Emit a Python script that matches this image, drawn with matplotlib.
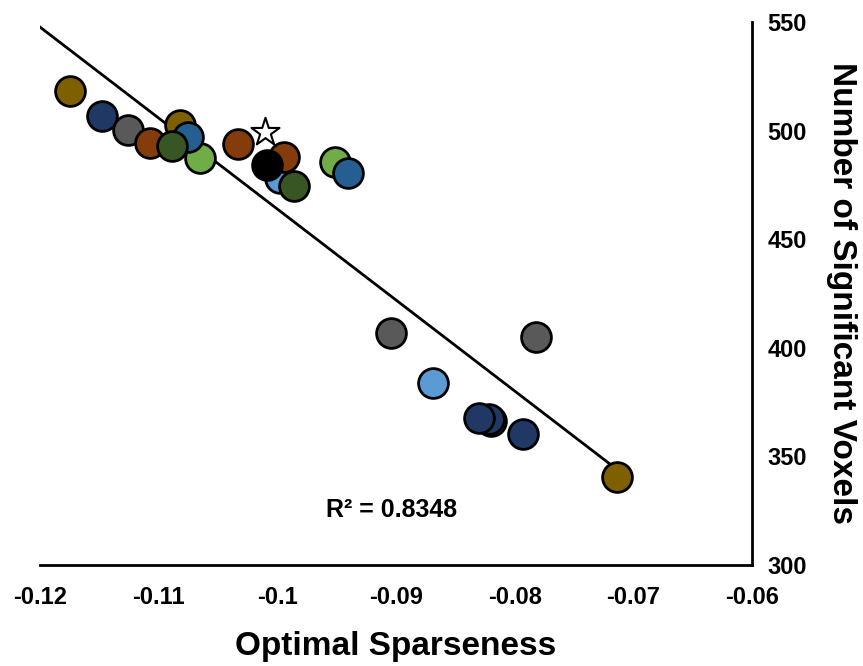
import numpy as np
import matplotlib
matplotlib.use("Agg")
import matplotlib.pyplot as plt

plt.rcParams['font.family'] = ['Liberation Sans', 'DejaVu Sans']

# optimal sparseness vs number of significant voxels (drawing order = back to front)
sparseness = [-0.1175, -0.1148, -0.1126, -0.1107, -0.1082, -0.1065, -0.1075, -0.1089,
              -0.1033, -0.0998, -0.0994, -0.1009, -0.0986, -0.0951, -0.0940,
              -0.0904, -0.0782, -0.0869, -0.0820, -0.0822, -0.0830, -0.0793, -0.0714]
voxels = [518.2, 506.7, 500.3, 494.3, 502.6, 487.4, 497.0, 492.9,
          493.8, 478.0, 487.8, 484.2, 474.5, 485.5, 480.5,
          406.8, 405.0, 383.8, 366.5, 367.0, 367.7, 360.3, 340.5]
group = ['olive', 'navy', 'gray', 'rust', 'olive', 'lime', 'blue', 'green',
         'rust', 'sky', 'rust', 'black', 'green', 'lime', 'blue',
         'gray', 'gray', 'sky', 'lime', 'navy', 'navy', 'navy', 'olive']

star_x = [-0.1010]
star_y = [499.4]

r2_text = "R² = 0.8348"

palette = {'olive': '#7F6000', 'navy': '#1F3864', 'gray': '#595959', 'rust': '#843C0C',
           'blue': '#255E91', 'green': '#375623', 'lime': '#70AD47', 'sky': '#5B9BD5',
           'black': '#000000'}

x = np.array(sparseness)
y = np.array(voxels)

fig = plt.figure(figsize=(8.63, 6.66), dpi=100)
ax = fig.add_axes([0.0463, 0.1517, 0.825, 0.8153])

# trendline
m, b = np.polyfit(x, y, 1)
xl = np.array([-0.12, x.max()])
ax.plot(xl, m * xl + b, color='black', lw=2, zorder=2)

for xi, yi, g in zip(x, y, group):
    ax.scatter(xi, yi, s=460, color=palette[g], edgecolor='black', linewidth=2, zorder=3)

ax.scatter(star_x, star_y, marker='*', s=450, facecolor='white', edgecolor='black',
           linewidth=1.5, zorder=4)

ax.text(-0.0904, 325.5, r2_text, ha='center', va='center', fontsize=18, fontweight='bold')

ax.set_xlim(-0.12, -0.06)
ax.set_ylim(300, 550)
ax.set_xticks(np.arange(-0.12, -0.055, 0.01))
ax.set_xticklabels(['-0.12', '-0.11', '-0.1', '-0.09', '-0.08', '-0.07', '-0.06'])
ax.set_yticks([300, 350, 400, 450, 500, 550])

ax.spines['top'].set_visible(False)
ax.spines['left'].set_visible(False)
ax.spines['right'].set_linewidth(2)
ax.spines['bottom'].set_linewidth(2)
ax.yaxis.tick_right()
ax.yaxis.set_label_position('right')
ax.tick_params(length=0, labelsize=17)
ax.tick_params(axis='x', pad=15)
ax.tick_params(axis='y', pad=11)
for lab in ax.get_xticklabels() + ax.get_yticklabels():
    lab.set_fontweight('bold')

ax.set_xlabel('Optimal Sparseness', fontsize=24, fontweight='bold', labelpad=16)
ax.set_ylabel('Number of Significant Voxels', fontsize=24, fontweight='bold',
              rotation=270, labelpad=36)

fig.savefig('out.png', dpi=100)
